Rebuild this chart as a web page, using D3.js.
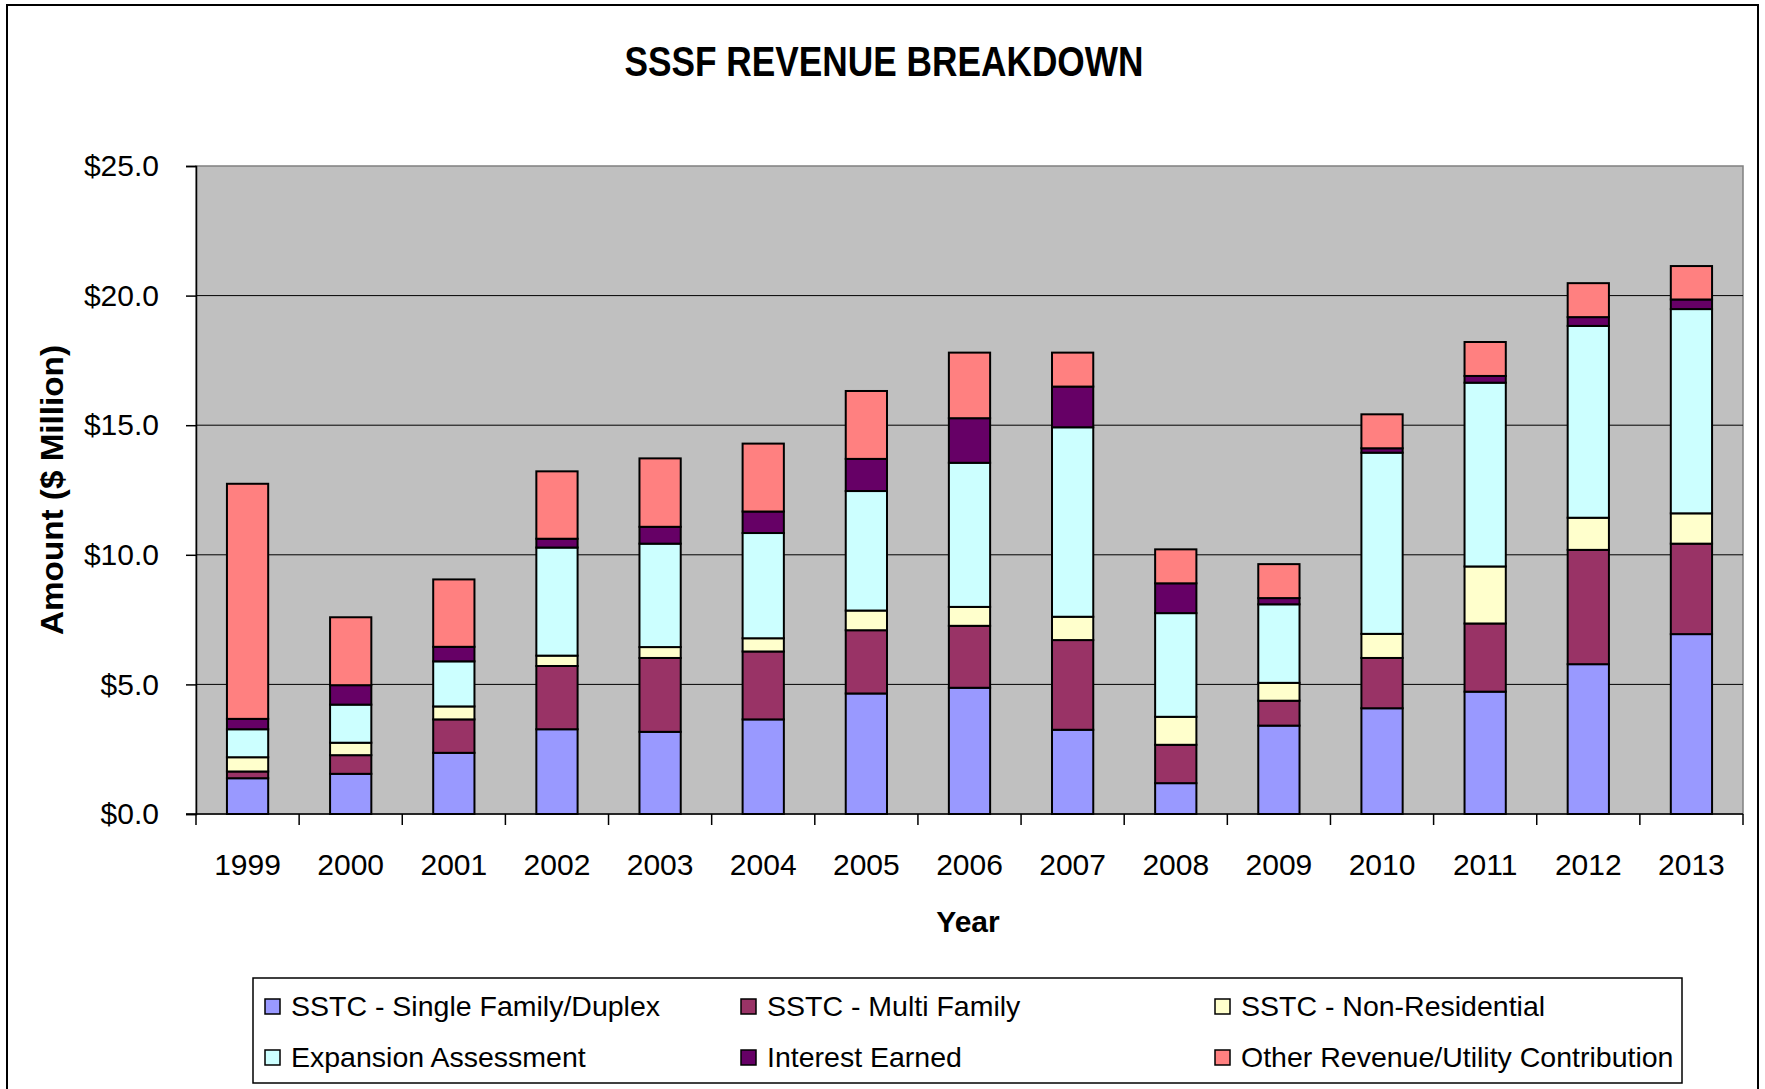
<!DOCTYPE html>
<html>
<head>
<meta charset="utf-8">
<script src="https://d3js.org/d3.v7.min.js"></script>
<style>
body { margin: 0; background: #fff; }
text { font-family: Arial, "Liberation Sans", sans-serif; fill: #000; }
</style>
</head>
<body>
<div id="chart"></div>
<script>
// values in $ million
var years = ["1999", "2000", "2001", "2002", "2003", "2004", "2005", "2006",
             "2007", "2008", "2009", "2010", "2011", "2012", "2013"];
var singleFamily   = [1.38, 1.55, 2.36, 3.27, 3.17, 3.65, 4.65, 4.87, 3.25, 1.19, 3.41, 4.08, 4.72, 5.78, 6.94];
var multiFamily    = [0.26, 0.72, 1.29, 2.44, 2.85, 2.62, 2.44, 2.39, 3.46, 1.48, 0.96, 1.94, 2.63, 4.41, 3.49];
var nonResidential = [0.55, 0.48, 0.50, 0.40, 0.42, 0.51, 0.76, 0.73, 0.90, 1.08, 0.69, 0.93, 2.20, 1.24, 1.17];
var expansion      = [1.08, 1.47, 1.74, 4.17, 3.99, 4.06, 4.61, 5.56, 7.31, 4.00, 3.03, 6.99, 7.09, 7.40, 7.88];
var interest       = [0.40, 0.75, 0.56, 0.34, 0.65, 0.83, 1.24, 1.72, 1.57, 1.15, 0.24, 0.17, 0.26, 0.34, 0.37];
var otherRevenue   = [9.07, 2.62, 2.60, 2.60, 2.64, 2.62, 2.62, 2.53, 1.31, 1.31, 1.31, 1.31, 1.31, 1.31, 1.29];

var seriesNames = ["SSTC - Single Family/Duplex", "SSTC - Multi Family", "SSTC - Non-Residential",
                   "Expansion Assessment", "Interest Earned", "Other Revenue/Utility Contribution"];
var seriesValues = [singleFamily, multiFamily, nonResidential, expansion, interest, otherRevenue];
var yTicks = [0, 5, 10, 15, 20, 25];

var colors = ["#9999ff", "#993366", "#ffffcc", "#ccffff", "#660066", "#ff8080"];

var WIDTH = 1765, HEIGHT = 1089;
var margin = { left: 196, right: 22, top: 166, bottom: 275 };
var width = WIDTH - margin.left - margin.right;
var height = HEIGHT - margin.top - margin.bottom;

var svg = d3.select("#chart").append("svg")
    .attr("width", WIDTH)
    .attr("height", HEIGHT);

// outer chart frame
svg.append("rect")
    .attr("x", 7).attr("y", 5)
    .attr("width", 1751).attr("height", 1100)
    .attr("fill", "#fff")
    .attr("stroke", "#000")
    .attr("stroke-width", 2);

// build rows for the stack
var rows = years.map(function(y, i) {
    var row = { year: y };
    seriesNames.forEach(function(name, k) { row[name] = seriesValues[k][i]; });
    return row;
});
var stacked = d3.stack().keys(seriesNames)(rows);

var g = svg.append("g")
    .attr("transform", "translate(" + margin.left + "," + margin.top + ")");

var xScale = d3.scaleBand()
    .domain(years)
    .range([0, width])
    .paddingInner(0.6)
    .paddingOuter(0.3);

var yScale = d3.scaleLinear()
    .domain([0, 25])
    .range([height, 0]);

var colorScale = d3.scaleOrdinal().domain(seriesNames).range(colors);

// plot background
g.append("rect")
    .attr("width", width)
    .attr("height", height)
    .attr("fill", "#c0c0c0")
    .attr("stroke", "#808080")
    .attr("stroke-width", 1.5);

// gridlines
g.selectAll(".grid")
    .data(yTicks.filter(function(d) { return d > 0 && d < 25; }))
    .enter().append("line")
    .attr("class", "grid")
    .attr("x1", 0).attr("x2", width)
    .attr("y1", function(d) { return yScale(d); })
    .attr("y2", function(d) { return yScale(d); })
    .attr("stroke", "#000")
    .attr("stroke-width", 1);

// bars
var layer = g.selectAll(".layer")
    .data(stacked)
    .enter().append("g")
    .attr("class", "layer")
    .attr("fill", function(d) { return colorScale(d.key); });

layer.selectAll("rect")
    .data(function(d) { return d; })
    .enter().append("rect")
    .attr("x", function(d) { return xScale(d.data.year); })
    .attr("width", xScale.bandwidth())
    .attr("y", function(d) { return yScale(d[1]); })
    .attr("height", function(d) { return yScale(d[0]) - yScale(d[1]); })
    .attr("stroke", "#000")
    .attr("stroke-width", 2);

// y axis
var yAxis = d3.axisLeft(yScale)
    .tickValues(yTicks)
    .tickSize(10)
    .tickPadding(27)
    .tickFormat(function(d) { return "$" + d.toFixed(1); });

var yAxisG = g.append("g").attr("class", "axis y-axis").call(yAxis);
yAxisG.select(".domain").attr("stroke", "#000").attr("stroke-width", 1.5);
yAxisG.selectAll(".tick line").attr("stroke", "#000").attr("stroke-width", 1.5);
yAxisG.selectAll("text")
    .style("font-size", "30px")
    .attr("fill", "#000");

// x axis: ticks sit between the categories
var step = xScale.step();
var x0 = xScale(years[0]) - step * xScale.paddingInner() / 2;
var boundaries = d3.range(years.length + 1).map(function(i) { return x0 + i * step; });

g.append("line")
    .attr("x1", -10).attr("x2", width)
    .attr("y1", height).attr("y2", height)
    .attr("stroke", "#000")
    .attr("stroke-width", 1.5);

g.selectAll(".xtick")
    .data(boundaries)
    .enter().append("line")
    .attr("class", "xtick")
    .attr("x1", function(d) { return d; })
    .attr("x2", function(d) { return d; })
    .attr("y1", height).attr("y2", height + 11)
    .attr("stroke", "#000")
    .attr("stroke-width", 1.5);

g.selectAll(".xlabel")
    .data(years)
    .enter().append("text")
    .attr("class", "xlabel")
    .attr("x", function(d) { return xScale(d) + xScale.bandwidth() / 2; })
    .attr("y", height + 61)
    .attr("text-anchor", "middle")
    .style("font-size", "30px")
    .text(function(d) { return d; });

// titles
svg.append("text")
    .attr("x", 884)
    .attr("y", 76)
    .attr("text-anchor", "middle")
    .attr("textLength", 519)
    .attr("lengthAdjust", "spacingAndGlyphs")
    .style("font-size", "43px")
    .style("font-weight", "bold")
    .text("SSSF REVENUE BREAKDOWN");

svg.append("text")
    .attr("x", 968)
    .attr("y", 932)
    .attr("text-anchor", "middle")
    .style("font-size", "30px")
    .style("font-weight", "bold")
    .text("Year");

svg.append("text")
    .attr("transform", "translate(63," + (margin.top + height / 2) + ") rotate(-90)")
    .attr("text-anchor", "middle")
    .attr("textLength", 290)
    .attr("lengthAdjust", "spacingAndGlyphs")
    .style("font-size", "32px")
    .style("font-weight", "bold")
    .text("Amount ($ Million)");

// legend
var legendBox = svg.append("g").attr("class", "legend");
legendBox.append("rect")
    .attr("x", 253).attr("y", 978)
    .attr("width", 1429).attr("height", 105)
    .attr("fill", "#fff")
    .attr("stroke", "#000")
    .attr("stroke-width", 1.5);

var colX = [291, 767, 1241];
var rowY = [1016, 1067];

var item = legendBox.selectAll(".item")
    .data(seriesNames)
    .enter().append("g")
    .attr("class", "item")
    .attr("transform", function(d, i) {
        return "translate(" + colX[i % 3] + "," + rowY[Math.floor(i / 3)] + ")";
    });

item.append("rect")
    .attr("x", -26)
    .attr("y", -17)
    .attr("width", 15)
    .attr("height", 15)
    .attr("fill", function(d) { return colorScale(d); })
    .attr("stroke", "#000")
    .attr("stroke-width", 1.5);

item.append("text")
    .style("font-size", "28.5px")
    .text(function(d) { return d; });
</script>
</body>
</html>
